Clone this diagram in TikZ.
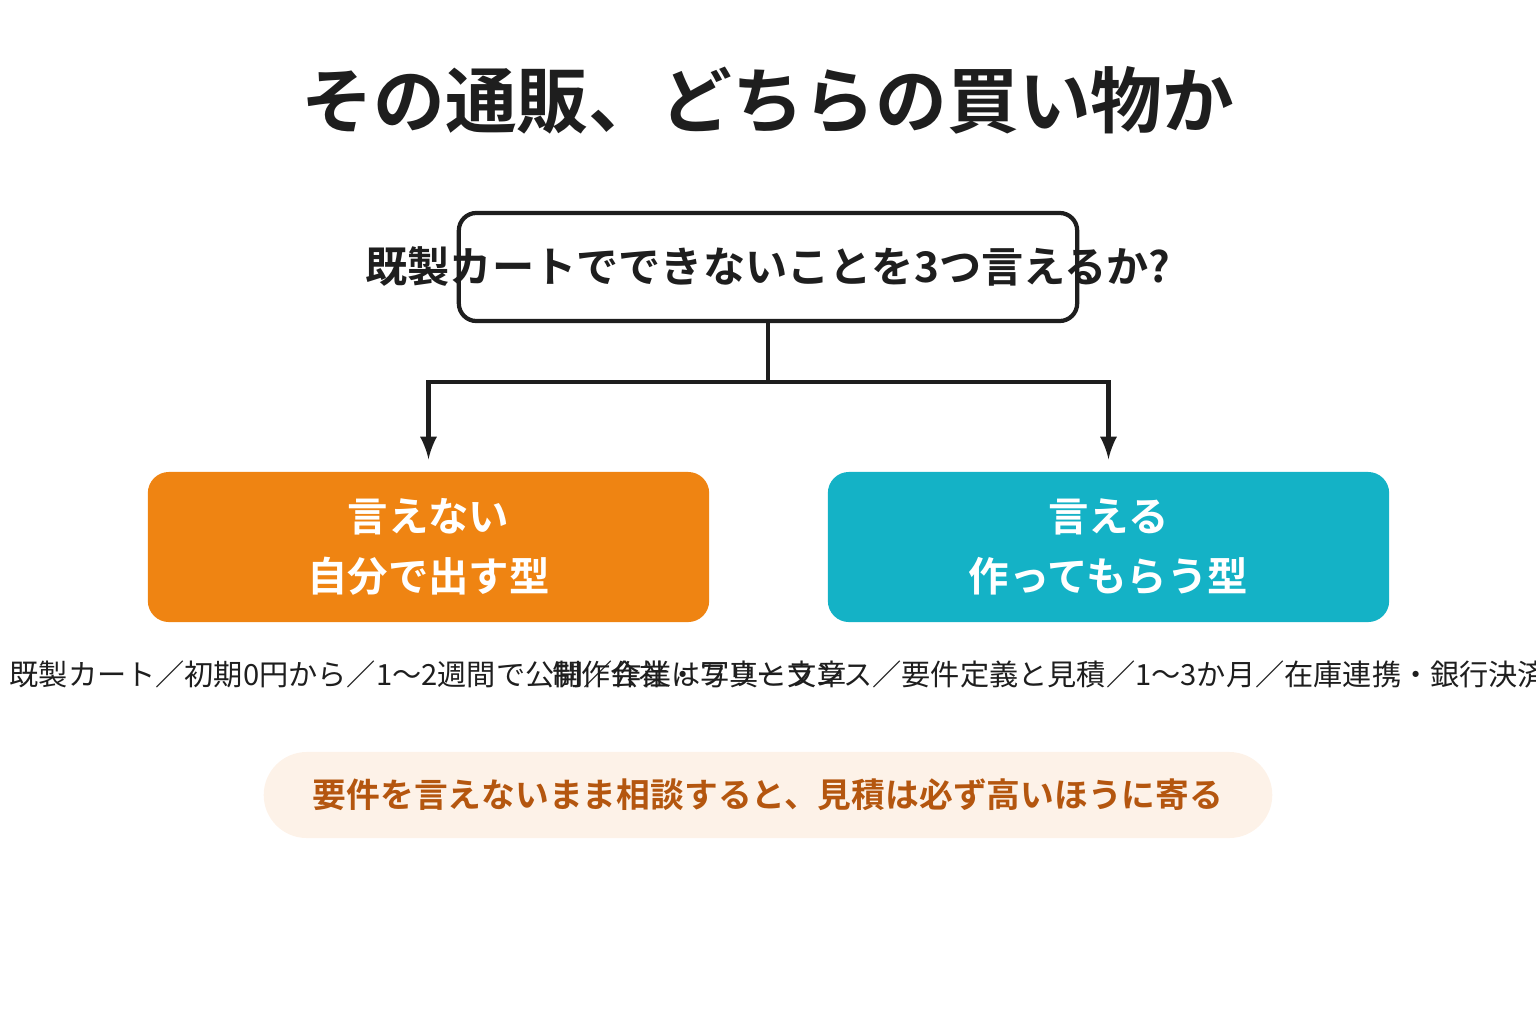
\documentclass[tikz,border=0pt]{standalone}
\usepackage{fontspec}
\newfontfamily\jp{Noto Sans CJK JP}
\newfontfamily\jpb{Noto Sans CJK JP Bold}
\usetikzlibrary{positioning}
\definecolor{ink}{HTML}{1E1E1E}
\definecolor{diyorange}{HTML}{EF8412}
\definecolor{ordteal}{HTML}{14B2C6}
\definecolor{notebg}{HTML}{FDF2E8}
\definecolor{notetext}{HTML}{B4560F}
\tikzset{
  choice/.style={rounded corners=6pt, minimum width=5.61cm, minimum height=1.5cm,
    text=white, align=center, font=\jpb\fontsize{11.5}{17}\selectfont},
  caption/.style={font=\jp\fontsize{8.3}{10}\selectfont, text=ink},
  link/.style={draw=ink, line width=1.2pt}
}
\begin{document}
\begin{tikzpicture}[x=0.01cm, y=-0.01cm, >=latex]
\useasboundingbox (0,0) rectangle (1536,1024);
\clip (0,0) rectangle (1536,1024);

% Title
\node[font=\jpb\fontsize{20.4}{25}\selectfont, text=ink] (title) at (768,100) {その通販、どちらの買い物か};

% Question
\node[draw=ink, line width=1.2pt, rounded corners=5pt, minimum width=6.18cm, minimum height=1.08cm] (qbox) at (768,267) {};
\node[font=\jpb\fontsize{12}{14}\selectfont, text=ink] (q) at (768,267) {既製カートでできないことを3つ言えるか?};

% Answers
\node[choice, fill=diyorange] (diy) at (428.5,547) {言えない\\自分で出す型};
\node[choice, fill=ordteal] (order) at (1108.5,547) {言える\\作ってもらう型};

% Branches
\coordinate (split) at (768,382);
\draw[link] (qbox.south) -- (split);
\draw[link, ->] (split) -| ([yshift=0.12cm]diy.north);
\draw[link, ->] (split) -| ([yshift=0.12cm]order.north);

% Details
\node[caption] (diynote) at (428,674) {既製カート／初期0円から／1〜2週間で公開／作業は写真と文章};
\node[caption] (ordnote) at (1108,674) {制作会社・フリーランス／要件定義と見積／1〜3か月／在庫連携・銀行決済にも対応};

% Bottom note
\node[fill=notebg, rounded corners=0.43cm, minimum width=10.08cm, minimum height=0.86cm,
  font=\jpb\fontsize{9.6}{12}\selectfont, text=notetext] (note) at (768,795)
  {要件を言えないまま相談すると、見積は必ず高いほうに寄る};
\end{tikzpicture}
\end{document}
